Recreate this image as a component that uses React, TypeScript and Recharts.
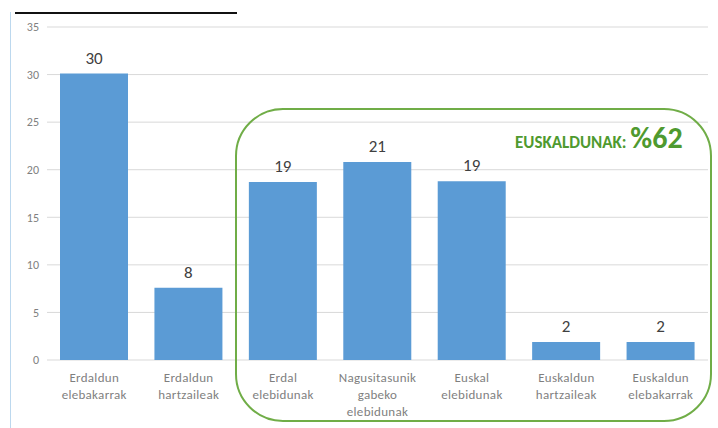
import { BarChart, Bar, XAxis, YAxis, CartesianGrid, LabelList } from 'recharts';

const categories = [
  'Erdaldun\nelebakarrak',
  'Erdaldun\nhartzaileak',
  'Erdal\nelebidunak',
  'Nagusitasunik\ngabeko\nelebidunak',
  'Euskal\nelebidunak',
  'Euskaldun\nhartzaileak',
  'Euskaldun\nelebakarrak',
];
const values = [30.1, 7.6, 18.7, 20.8, 18.8, 1.9, 1.9];
const yTicks = [0, 5, 10, 15, 20, 25, 30, 35];

const data = categories.map((name, i) => ({ name, value: values[i] }));

const FONT = 'Calibri, Carlito, Lato, "Open Sans", "DejaVu Sans", sans-serif';

function CategoryTick(props: any) {
  const { x, y, payload } = props;
  const lines = String(payload.value).split('\n');
  return (
    <text
      x={x}
      y={y}
      textAnchor="middle"
      fill="#7f7f7f"
      fontSize={13}
      letterSpacing={0.3}
      fontFamily={FONT}
    >
      {lines.map((line, i) => (
        <tspan key={i} x={x} dy={i === 0 ? 14 : 17}>
          {line}
        </tspan>
      ))}
    </text>
  );
}

export default function App() {
  return (
    <div style={{ position: 'absolute', left: 0, top: 0, width: 718, height: 428, background: '#fff' }}>
      <style>{'body{margin:0}'}</style>
      {/* scan artifacts: light left rule and top line */}
      <div style={{ position: 'absolute', left: 10, top: 12, width: 1, height: 416, background: '#bcd8ee' }} />
      <div style={{ position: 'absolute', left: 15, top: 12, width: 222, height: 2, background: '#111' }} />
      <BarChart
        width={718}
        height={428}
        data={data}
        margin={{ top: 27, right: 10, left: 12, bottom: 8 }}
        barCategoryGap={13}
      >
        <CartesianGrid vertical={false} stroke="#d9d9d9" />
        <XAxis
          dataKey="name"
          axisLine={false}
          tickLine={false}
          height={60}
          interval={0}
          tick={<CategoryTick />}
        />
        <YAxis
          domain={[0, 35]}
          ticks={yTicks}
          axisLine={false}
          tickLine={false}
          width={35}
          tick={{ fontSize: 12, fill: '#808080', fontFamily: FONT }}
        />
        <Bar dataKey="value" fill="#5b9bd5" isAnimationActive={false}>
          <LabelList
            dataKey="value"
            position="top"
            offset={10}
            formatter={(v: any) => Math.round(Number(v)).toString()}
            style={{ fontSize: 17, fill: '#404040', fontFamily: FONT }}
          />
        </Bar>
      </BarChart>
      <div
        style={{
          position: 'absolute',
          left: 235,
          top: 108,
          width: 477,
          height: 314,
          border: '2px solid #70ad47',
          borderRadius: 48,
          boxSizing: 'border-box',
          pointerEvents: 'none',
        }}
      />
      <div
        style={{
          position: 'absolute',
          left: 515,
          top: 122,
          color: '#4f9a2f',
          fontFamily: FONT,
          fontWeight: 700,
          whiteSpace: 'nowrap',
          lineHeight: '32px',
        }}
      >
        <span style={{ fontSize: 17 }}>EUSKALDUNAK: </span>
        <span style={{ fontSize: 30 }}>%62</span>
      </div>
    </div>
  );
}
